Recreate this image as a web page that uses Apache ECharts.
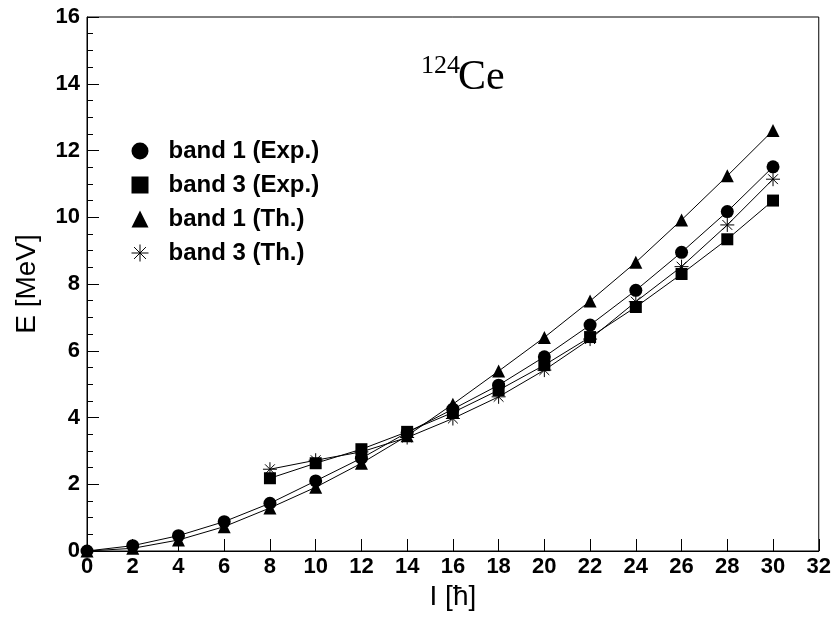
<!DOCTYPE html>
<html>
<head>
<meta charset="utf-8">
<script src="https://cdn.jsdelivr.net/npm/echarts@6/dist/echarts.min.js"></script>
<style>
html,body{margin:0;padding:0;background:#fff;}
#chart{width:834px;height:620px;}
</style>
</head>
<body>
<div id="chart"></div>
<script>
// ---- data ----
const spin1 = [0, 2, 4, 6, 8, 10, 12, 14, 16, 18, 20, 22, 24, 26, 28, 30];
const band1Exp = [0, 0.16, 0.46, 0.88, 1.43, 2.10, 2.78, 3.55, 4.25, 4.97, 5.82, 6.77, 7.81, 8.95, 10.17, 11.51];
const band1Th = [0, 0.08, 0.33, 0.73, 1.29, 1.91, 2.63, 3.45, 4.40, 5.39, 6.40, 7.49, 8.65, 9.92, 11.24, 12.60];
const spin3 = [8, 10, 12, 14, 16, 18, 20, 22, 24, 26, 28, 30];
const band3Exp = [2.18, 2.63, 3.05, 3.57, 4.15, 4.82, 5.57, 6.41, 7.31, 8.30, 9.34, 10.50];
const band3Th = [2.45, 2.72, 2.97, 3.40, 3.97, 4.62, 5.42, 6.35, 7.47, 8.52, 9.77, 11.14];
const seriesNames = ['band 1 (Exp.)', 'band 3 (Exp.)', 'band 1 (Th.)', 'band 3 (Th.)'];
const xTitle = 'I [\u0127]';
const yTitle = 'E [MeV]';
const isoMass = '124';
const isoSym = 'Ce';

const pairs = (xs, ys) => xs.map((x, i) => [x, ys[i]]);
const starPath = 'path://M10,0 L10,20 M0,10 L20,10 M3,3 L17,17 M3,17 L17,3';

const chart = echarts.init(document.getElementById('chart'), null, {renderer: 'canvas'});
const lineStyle = {color: '#000', width: 1};
const mk = (name, data, symbol, size, extra) => Object.assign({
  name: name, type: 'line', data: data, symbol: symbol, symbolSize: size,
  showAllSymbol: true, lineStyle: lineStyle,
  itemStyle: {color: '#000', borderColor: '#000', borderWidth: 0, opacity: 1},
  emphasis: {disabled: true}, animation: false, z: 3
}, extra || {});

chart.setOption({
  animation: false,
  backgroundColor: '#fff',
  grid: {left: 87, right: 11, top: 17, bottom: 69, show: true, borderColor: '#000', borderWidth: 1, backgroundColor: 'transparent'},
  legend: {
    orient: 'vertical', left: 124, top: 134,
    itemWidth: 17, itemHeight: 17, itemGap: 10,
    textStyle: {fontFamily: 'Liberation Sans', fontWeight: 'bold', fontSize: 24, color: '#000', lineHeight: 17, padding: [0, 0, 0, 15]},
    data: [
      {name: seriesNames[0], icon: 'circle'},
      {name: seriesNames[1], icon: 'rect'},
      {name: seriesNames[2], icon: 'triangle'},
      {name: seriesNames[3], icon: starPath, itemStyle: {color: 'none', borderColor: '#000', borderWidth: 1}}
    ],
    selectedMode: false
  },
  graphic: [
    {type: 'text', left: 421, top: 53, style: {text: isoMass, font: '26px "Liberation Serif"', fill: '#000'}},
    {type: 'text', left: 458, top: 57, style: {text: isoSym, font: '42px "Liberation Serif"', fill: '#000'}}
  ],
  xAxis: {
    type: 'value', min: 0, max: 32, interval: 2,
    name: xTitle, nameLocation: 'middle', nameGap: 30,
    nameTextStyle: {fontFamily: 'Liberation Sans', fontSize: 28, color: '#000'},
    axisLine: {show: true, lineStyle: {color: '#000', width: 1}},
    axisTick: {show: true, inside: true, length: 12, lineStyle: {color: '#000', width: 1}},
    axisLabel: {fontFamily: 'Liberation Sans', fontWeight: 'bold', fontSize: 22, color: '#000', margin: 5},
    splitLine: {show: false}
  },
  yAxis: {
    type: 'value', min: 0, max: 16, interval: 2,
    name: yTitle, nameLocation: 'middle', nameGap: 46, nameRotate: 90,
    nameTextStyle: {fontFamily: 'Liberation Sans', fontSize: 28, color: '#000'},
    axisLine: {show: true, lineStyle: {color: '#000', width: 1}},
    axisTick: {show: true, inside: true, length: 12, lineStyle: {color: '#000', width: 1}},
    minorTick: {show: true, splitNumber: 4, length: 6, lineStyle: {color: '#000', width: 1}},
    axisLabel: {fontFamily: 'Liberation Sans', fontWeight: 'bold', fontSize: 22, color: '#000', margin: 7},
    splitLine: {show: false}
  },
  series: [
    mk(seriesNames[0], pairs(spin1, band1Exp), 'circle', 13),
    mk(seriesNames[1], pairs(spin3, band3Exp), 'rect', 12),
    mk(seriesNames[2], pairs(spin1, band1Th), 'triangle', 13),
    mk(seriesNames[3], pairs(spin3, band3Th), starPath, 14, {itemStyle: {color: 'none', borderColor: '#000', borderWidth: 1, opacity: 1}})
  ]
});
</script>
</body>
</html>
